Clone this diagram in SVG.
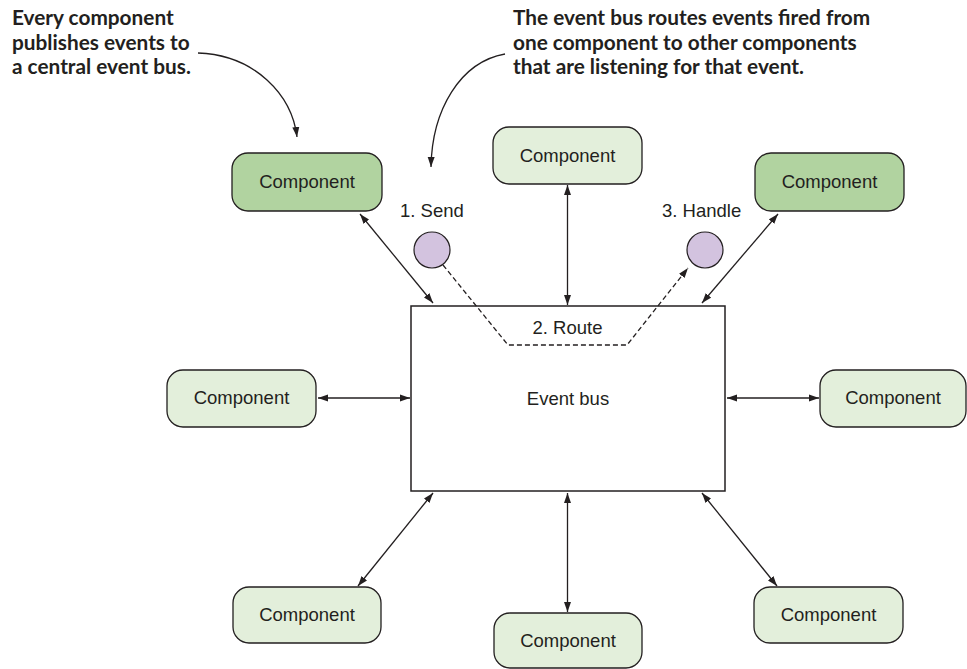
<svg xmlns="http://www.w3.org/2000/svg" width="967" height="669" viewBox="0 0 967 669">
<style>
.note{font-family:Lato,"Open Sans",sans-serif;font-weight:bold;font-size:20.8px;fill:#231f20}
.lbl{font-family:"Liberation Sans",Arial,sans-serif;font-size:18.5px;fill:#231f20}
.node{stroke:#231f20;stroke-width:1.3}
.dark{fill:#b1d3a0}
.light{fill:#e3efdb}
.conn{stroke:#231f20;stroke-width:1.3;fill:none}
.dash{stroke-dasharray:5,3}
.dot{fill:#d3c3df;stroke:#231f20;stroke-width:1.2}
</style>
<defs>
<marker id="ah" markerUnits="userSpaceOnUse" markerWidth="11" markerHeight="8" refX="10" refY="4" orient="auto-start-reverse" viewBox="0 0 11 8">
<path d="M0,0.5 L10,4 L0,7.5 z" fill="#231f20"/>
</marker>
</defs>
<rect width="967" height="669" fill="#fff"/>

<g id="note-left">
<text class="note" x="12" y="25">Every component</text>
<text class="note" x="12" y="49.5">publishes events to</text>
<text class="note" x="12" y="74">a central event bus.</text>
</g>
<g id="note-right">
<text class="note" x="513" y="25">The event bus routes events fired from</text>
<text class="note" x="513" y="49.5">one component to other components</text>
<text class="note" x="513" y="74">that are listening for that event.</text>
</g>

<g id="event-bus">
<rect x="411" y="306" width="314" height="185" fill="#fff" stroke="#231f20" stroke-width="1.5"/>
<text class="lbl" x="568" y="405" text-anchor="middle">Event bus</text>
<text class="lbl" x="567.5" y="334" text-anchor="middle">2. Route</text>
</g>

<g id="connectors">
<path class="conn" d="M198,53 C255,55 292,95 297,137" marker-end="url(#ah)"/>
<path class="conn" d="M505,54 C460,62 432,110 431,167" marker-end="url(#ah)"/>
<line class="conn" x1="360" y1="214" x2="433" y2="303" marker-start="url(#ah)" marker-end="url(#ah)"/>
<line class="conn" x1="567.5" y1="185" x2="567.5" y2="305" marker-start="url(#ah)" marker-end="url(#ah)"/>
<line class="conn" x1="778" y1="214" x2="702" y2="303" marker-start="url(#ah)" marker-end="url(#ah)"/>
<line class="conn" x1="318" y1="398" x2="410" y2="398" marker-start="url(#ah)" marker-end="url(#ah)"/>
<line class="conn" x1="727" y1="398" x2="819" y2="398" marker-start="url(#ah)" marker-end="url(#ah)"/>
<line class="conn" x1="433" y1="493" x2="358" y2="586" marker-start="url(#ah)" marker-end="url(#ah)"/>
<line class="conn" x1="567.5" y1="493" x2="567.5" y2="612" marker-start="url(#ah)" marker-end="url(#ah)"/>
<line class="conn" x1="702" y1="493" x2="777" y2="586" marker-start="url(#ah)" marker-end="url(#ah)"/>
<path class="conn dash" d="M443,265 L508,345 L627,345 L688,268" marker-end="url(#ah)"/>
</g>

<g id="send">
<circle class="dot" cx="432" cy="250" r="18"/>
<text class="lbl" x="400" y="217">1. Send</text>
</g>
<g id="handle">
<circle class="dot" cx="705" cy="250" r="18"/>
<text class="lbl" x="662" y="217">3. Handle</text>
</g>

<g id="comp-top-left">
<rect class="node dark" x="232" y="153" width="150" height="58" rx="16"/>
<text class="lbl" x="307" y="188" text-anchor="middle">Component</text>
</g>
<g id="comp-top">
<rect class="node light" x="493" y="127" width="149" height="57" rx="16"/>
<text class="lbl" x="567.5" y="162" text-anchor="middle">Component</text>
</g>
<g id="comp-top-right">
<rect class="node dark" x="755" y="153" width="149" height="58" rx="16"/>
<text class="lbl" x="829.5" y="188" text-anchor="middle">Component</text>
</g>
<g id="comp-left">
<rect class="node light" x="167" y="370" width="149" height="57" rx="16"/>
<text class="lbl" x="241.5" y="404" text-anchor="middle">Component</text>
</g>
<g id="comp-right">
<rect class="node light" x="820" y="370" width="146" height="57" rx="16"/>
<text class="lbl" x="893" y="404" text-anchor="middle">Component</text>
</g>
<g id="comp-bottom-left">
<rect class="node light" x="233" y="587" width="148" height="56" rx="16"/>
<text class="lbl" x="307" y="621" text-anchor="middle">Component</text>
</g>
<g id="comp-bottom">
<rect class="node light" x="494" y="613" width="148" height="55" rx="16"/>
<text class="lbl" x="568" y="647" text-anchor="middle">Component</text>
</g>
<g id="comp-bottom-right">
<rect class="node light" x="754" y="587" width="149" height="56" rx="16"/>
<text class="lbl" x="828.5" y="621" text-anchor="middle">Component</text>
</g>
</svg>
